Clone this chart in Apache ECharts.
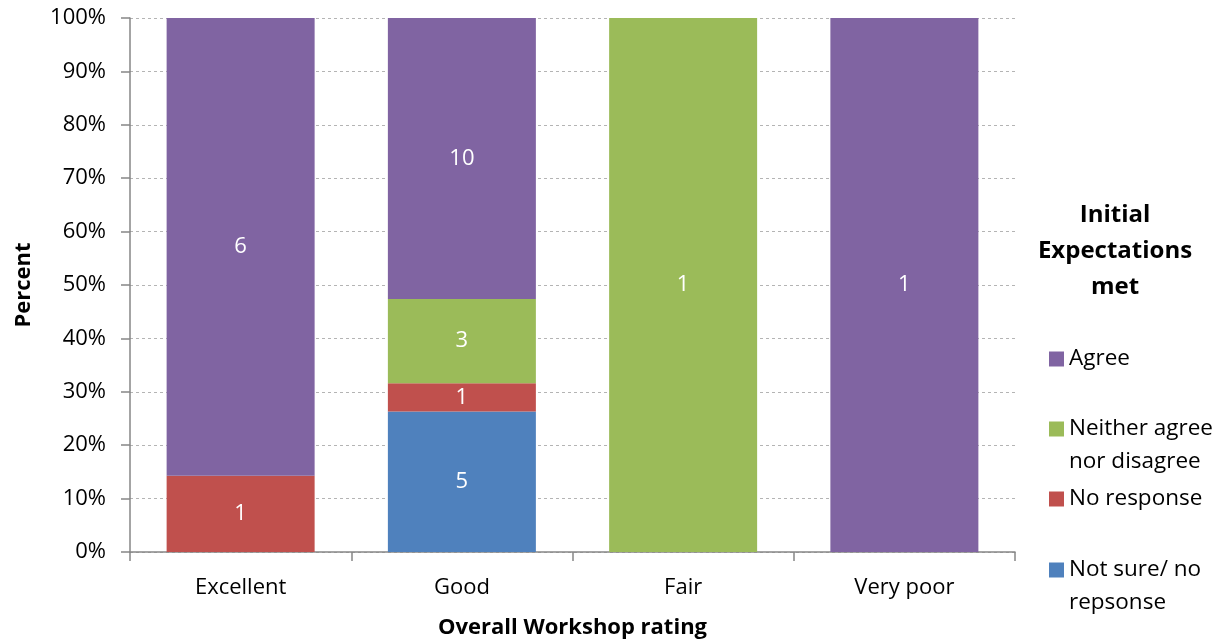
<!DOCTYPE html>
<html>
<head>
<meta charset="utf-8">
<script src="https://cdn.jsdelivr.net/npm/echarts@6/dist/echarts.min.js"></script>
<style>
  html, body { margin: 0; padding: 0; background: #fff; }
  #chart { width: 1232px; height: 643px; }
</style>
</head>
<body>
<div id="chart"></div>
<script>
// categories on the x axis
const ratings = ['Excellent', 'Good', 'Fair', 'Very poor']
// response counts per rating (stack order bottom -> top)
const notSure = [0, 5, 0, 0]
const noResponse = [1, 1, 0, 0]
const neither = [0, 3, 1, 0]
const agree = [6, 10, 0, 1]
const seriesNames = ['Not sure/ no\nrepsonse', 'No response', 'Neither agree\nnor disagree', 'Agree']
const seriesColors = ['#4F81BD', '#C0504D', '#9BBB59', '#8064A2']
const yTicks = [0, 10, 20, 30, 40, 50, 60, 70, 80, 90, 100]

const counts = [notSure, noResponse, neither, agree]
const totals = ratings.map((_, i) => counts.reduce((s, arr) => s + arr[i], 0))

const font = '"Open Sans", "Noto Sans", sans-serif'
const chart = echarts.init(document.getElementById('chart'))

// one legend block per entry so the spacing can follow the original
// (two-line names get an empty first line so the square sits on line one)
const legendTops = [520.5, 482.5, 379.5, 342.5]
const legends = seriesNames.map((name, i) => ({
  data: [name],
  left: 1049,
  top: legendTops[i],
  padding: 0,
  itemWidth: 15,
  itemHeight: 15,
  icon: 'rect',
  selectedMode: false,
  formatter: n => (n.indexOf('\n') >= 0 ? '\n' + n : n),
  textStyle: {
    fontFamily: font,
    fontSize: 22.5,
    color: '#000',
    lineHeight: 33
  }
}))

const option = {
  animation: false,
  textStyle: { fontFamily: font },
  title: {
    text: 'Initial\nExpectations\nmet',
    left: 1115,
    top: 197,
    padding: 0,
    textAlign: 'center',
    textStyle: { fontFamily: font, fontSize: 24, fontWeight: 'bold', color: '#000', lineHeight: 36 }
  },
  legend: legends,
  grid: { left: 130, right: 217, top: 18, bottom: 91, outerBoundsMode: 'none' },
  xAxis: {
    type: 'category',
    data: ratings,
    name: 'Overall Workshop rating',
    nameLocation: 'middle',
    nameGap: 65,
    nameTextStyle: { fontFamily: font, fontSize: 22, fontWeight: 'bold', color: '#000' },
    axisLine: { lineStyle: { color: '#868686', width: 1.5 } },
    axisTick: { show: true, length: 9, lineStyle: { color: '#868686', width: 1.5 } },
    axisLabel: { fontSize: 22, color: '#000', margin: 25 }
  },
  yAxis: {
    type: 'value',
    min: 0,
    max: 100,
    interval: 10,
    name: 'Percent',
    nameLocation: 'middle',
    nameGap: 95,
    nameTextStyle: { fontFamily: font, fontSize: 22, fontWeight: 'bold', color: '#000' },
    axisLine: { show: true, lineStyle: { color: '#868686', width: 1.5 } },
    axisTick: { show: true, length: 9, lineStyle: { color: '#868686', width: 1.5 } },
    axisLabel: {
      fontSize: 22,
      color: '#000',
      margin: 24,
      formatter: v => (yTicks.indexOf(v) >= 0 ? v + '%' : '')
    },
    splitLine: { lineStyle: { color: '#b4b4b4', type: [3, 3], width: 1 } }
  },
  series: counts.map((arr, si) => ({
    name: seriesNames[si],
    type: 'bar',
    stack: 'total',
    barWidth: 148,
    itemStyle: { color: seriesColors[si] },
    label: {
      show: true,
      color: '#fff',
      fontSize: 22,
      fontFamily: font,
      formatter: p => (arr[p.dataIndex] ? String(arr[p.dataIndex]) : '')
    },
    data: arr.map((c, i) => (c / totals[i]) * 100)
  }))
}

chart.setOption(option)
</script>
</body>
</html>
